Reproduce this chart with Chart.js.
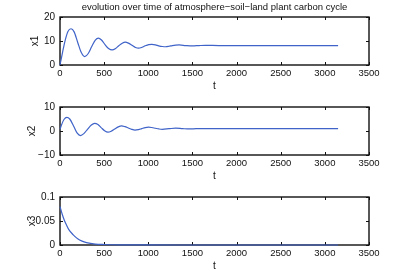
<!DOCTYPE html>
<html>
<head>
<meta charset="utf-8">
<script src="https://cdn.jsdelivr.net/npm/chart.js@4.4.1/dist/chart.umd.min.js"></script>
<style>
  html, body { margin: 0; padding: 0; background: #fff; }
  #wrap { position: relative; width: 417px; height: 276px; overflow: hidden; }
  #wrap canvas { position: absolute; left: 0; }
</style>
</head>
<body>
<div id="wrap">
  <canvas id="plot1" width="417" height="96" style="top:0px"></canvas>
  <canvas id="plot2" width="417" height="96" style="top:90px"></canvas>
  <canvas id="plot3" width="417" height="96" style="top:180px"></canvas>
</div>
<script>
const chartTitle = "evolution over time of atmosphere\u2212soil\u2212land plant carbon cycle";

// x1
const t1 = [0, 30, 60, 90, 125, 160, 200, 240, 280, 320, 358, 400, 435, 470, 512, 550, 590, 630, 665, 705,
            740, 775, 815, 855, 890, 930, 965, 1005, 1040, 1080, 1118, 1160, 1195, 1235, 1272, 1310, 1350,
            1425, 1500, 1575, 1650, 1800, 2000, 2500, 3150];
const x1 = [0, 5.5, 10.5, 14.0, 15.1, 13.8, 9.5, 5.3, 3.5, 4.8, 7.6, 10.4, 11.2, 10.4, 8.4, 6.9, 6.3, 6.9, 8.0, 9.1,
            9.5, 9.1, 8.2, 7.3, 7.0, 7.4, 8.0, 8.5, 8.6, 8.4, 8.0, 7.7, 7.6, 7.8, 8.1, 8.3, 8.35,
            8.1, 7.95, 8.1, 8.2, 8.1, 8.1, 8.1, 8.1];

// x2 (middle panel)
const t2 = [0, 20, 45, 78, 110, 155, 195, 232, 270, 311, 355, 392, 430, 466, 505, 543, 580, 620, 660, 698,
            735, 774, 812, 850, 888, 926, 965, 1003, 1040, 1080, 1120, 1158, 1234, 1310, 1388, 1465,
            1540, 1620, 1800, 2500, 3150];
const x2 = [0.7, 2.8, 4.8, 5.7, 5.0, 2.0, -0.9, -1.9, -1.1, 0.7, 2.5, 3.2, 2.7, 1.4, 0.1, -0.5, -0.1, 0.8, 1.7, 2.1,
            1.8, 1.25, 0.7, 0.4, 0.6, 1.0, 1.4, 1.6, 1.45, 1.15, 0.85, 0.7, 0.95, 1.2, 1.0, 0.85,
            0.95, 1.0, 0.95, 0.95, 0.95];

// x3 (bottom panel)
const t3 = [0, 25, 50, 75, 100, 150, 200, 250, 300, 400, 500, 700, 1000, 1500, 3150];
const x3 = [0.080, 0.064, 0.051, 0.041, 0.032, 0.021, 0.013, 0.008, 0.005, 0.002, 0.001, 0.0003, 0.0001, 0, 0];

// tick values (first and last are the axis limits)
const tTicks = [0, 500, 1000, 1500, 2000, 2500, 3000, 3500];
const x1Ticks = [0, 10, 20];
const x2Ticks = [-10, 0, 10];
const x3Ticks = [0, 0.05, 0.1];

Chart.defaults.font.family = "'Liberation Sans', Arial, sans-serif";
Chart.defaults.font.size = 10;
Chart.defaults.color = '#111';

const matlabBox = { // closed box with inward ticks, drawn under the curve
    id: 'matlabBox',
    beforeDatasetsDraw(chart) {
        const { ctx, chartArea: a, scales } = chart;
        const len = 3;
        ctx.save();
        ctx.strokeStyle = '#111';
        ctx.lineWidth = 1;
        ctx.beginPath();
        scales.x.ticks.forEach(tk => {
            const px = Math.round(scales.x.getPixelForValue(tk.value)) + 0.5;
            ctx.moveTo(px, a.bottom); ctx.lineTo(px, a.bottom - len);
            ctx.moveTo(px, a.top); ctx.lineTo(px, a.top + len);
        });
        scales.y.ticks.forEach(tk => {
            const py = Math.round(scales.y.getPixelForValue(tk.value)) + 0.5;
            ctx.moveTo(a.left, py); ctx.lineTo(a.left + len, py);
            ctx.moveTo(a.right, py); ctx.lineTo(a.right - len, py);
        });
        ctx.stroke();
        ctx.lineWidth = 1.4;
        ctx.strokeRect(a.left, a.top, a.right - a.left, a.bottom - a.top);
        ctx.restore();
    }
};

function createPlot(id, tData, yData, yLabel, yTicks, labelPad, withTitle) {
    const ctx = document.getElementById(id).getContext('2d');
    const points = tData.map((t, i) => ({ x: t, y: yData[i] }));
    return new Chart(ctx, {
        type: 'line',
        data: {
            datasets: [{
                data: points,
                borderColor: '#3f63c8',
                borderWidth: 1.2,
                pointRadius: 0,
                cubicInterpolationMode: 'monotone',
                clip: 3
            }]
        },
        options: {
            responsive: false,
            animation: false,
            // 12px on the left so the full-width title centres over the box
            layout: { padding: { top: withTitle ? 0 : 17, right: 0, left: 12, bottom: 0 } },
            plugins: {
                legend: { display: false },
                tooltip: { enabled: false },
                title: {
                    display: withTitle,
                    text: chartTitle,
                    color: '#111',
                    font: { size: 9.5, weight: 'normal' },
                    padding: { top: 1.3, bottom: 4.3 }
                }
            },
            scales: {
                x: {
                    type: 'linear',
                    min: tTicks[0], max: tTicks[tTicks.length - 1],
                    grid: { display: false, drawTicks: false },
                    border: { display: false },
                    ticks: { padding: 3, maxRotation: 0, autoSkip: false,
                             font: { size: 9.5 }, callback: v => String(v) },
                    afterBuildTicks: s => { s.ticks = tTicks.map(v => ({ value: v })); },
                    title: { display: true, text: 't', padding: { top: 0, bottom: 4 } },
                    afterFit: s => { s.height = 31; }
                },
                y: {
                    min: yTicks[0], max: yTicks[yTicks.length - 1],
                    grid: { display: false, drawTicks: false },
                    border: { display: false },
                    ticks: {
                        padding: 5, autoSkip: false,
                        callback: v => String(v).replace('-', '\u2212')
                    },
                    afterBuildTicks: s => { s.ticks = yTicks.map(v => ({ value: v })); },
                    title: { display: true, text: yLabel, padding: { top: labelPad, bottom: 0 } },
                    afterFit: s => { s.width = 48; }
                },
                right: { // empty margin on the right of the box
                    position: 'right',
                    min: 0, max: 1,
                    grid: { display: false, drawTicks: false },
                    border: { display: false },
                    ticks: { display: false },
                    afterFit: s => { s.width = 48; }
                }
            }
        },
        plugins: [matlabBox]
    });
}

document.addEventListener("DOMContentLoaded", function() {
    createPlot('plot1', t1, x1, 'x1', x1Ticks, 17, true);
    createPlot('plot2', t2, x2, 'x2', x2Ticks, 14.5, false);
    createPlot('plot3', t3, x3, 'x3', x3Ticks, 14.5, false);
});
</script>
</body>
</html>
